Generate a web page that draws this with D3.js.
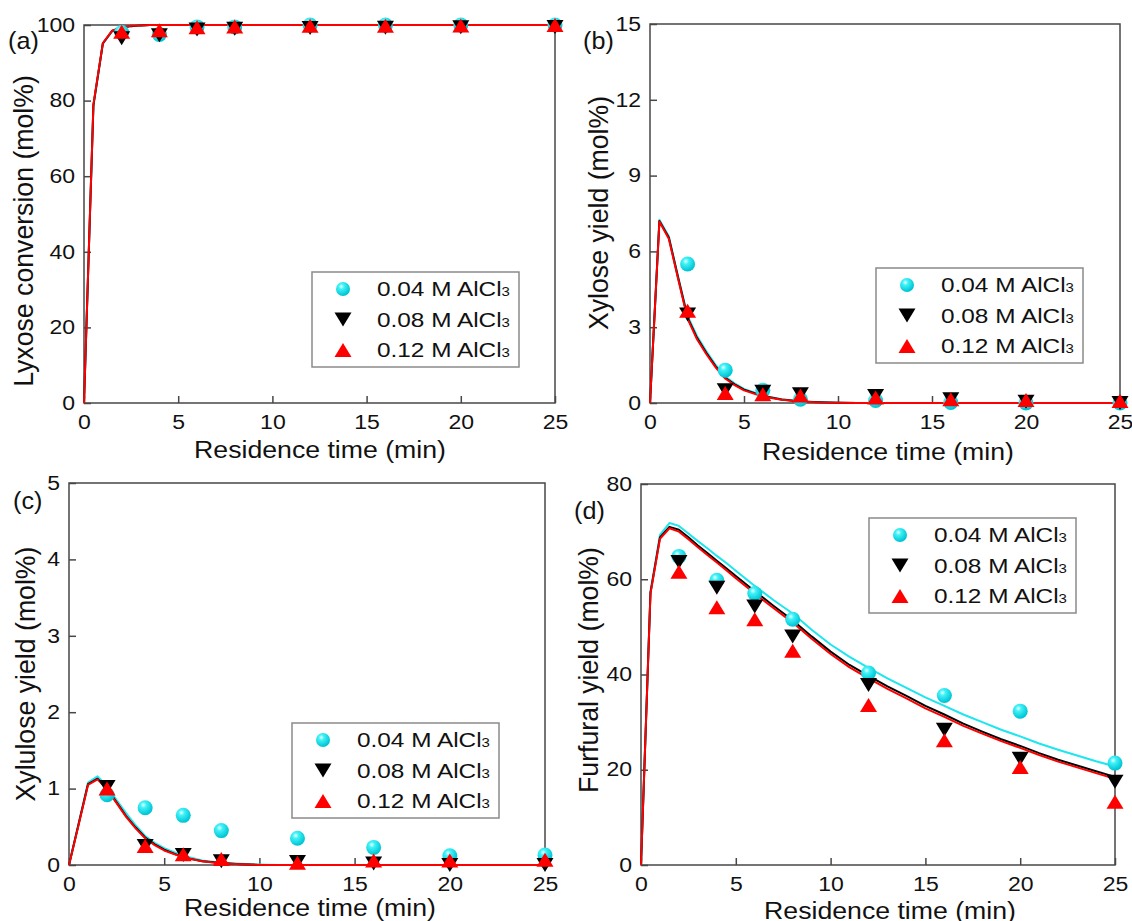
<!DOCTYPE html>
<html>
<head>
<meta charset="utf-8">
<script src="https://cdn.jsdelivr.net/npm/d3@7"></script>
<style>
  body { margin: 0; background: #fff; }
  text { font-family: "Liberation Sans", Arial, sans-serif; fill: #111; }
</style>
</head>
<body>
<script>
// residence times of the experiments and of the model curves
var tData = [2, 4, 6, 8, 12, 16, 20, 25];
var tFit = [0, 0.5, 1, 1.5, 2, 2.5, 3, 3.5, 4, 4.5, 5, 6, 7, 8, 9, 10, 11, 12, 13, 14, 15, 16, 17, 18, 19, 20, 21, 22, 23, 24, 25];

var xTicks = [0, 5, 10, 15, 20, 25];
var yTicksA = [0, 20, 40, 60, 80, 100];
var yTicksB = [0, 3, 6, 9, 12, 15];
var yTicksC = [0, 1, 2, 3, 4, 5];
var yTicksD = [0, 20, 40, 60, 80];

var seriesNames = ["0.04 M AlCl", "0.08 M AlCl", "0.12 M AlCl"];

// (a) lyxose conversion
var lyxC04 = [98.0, 97.5, 99.5, 99.5, 100, 100, 100, 100];
var lyxC08 = [96.5, 97.3, 98.8, 99.0, 99.2, 99.3, 99.4, 99.5];
var lyxC12 = [98.2, 98.6, 99.4, 99.6, 99.8, 99.8, 99.9, 100];
var lyxFit04 = [0, 78.6, 95.0, 98.4, 99.3, 99.7, 99.9, 100, 100, 100, 100, 100, 100, 100, 100, 100, 100, 100, 100, 100, 100, 100, 100, 100, 100, 100, 100, 100, 100, 100, 100];
var lyxFit08 = [0, 78.8, 95.1, 98.5, 99.3, 99.7, 99.9, 100, 100, 100, 100, 100, 100, 100, 100, 100, 100, 100, 100, 100, 100, 100, 100, 100, 100, 100, 100, 100, 100, 100, 100];
var lyxFit12 = [0, 79.0, 95.2, 98.5, 99.4, 99.8, 99.9, 100, 100, 100, 100, 100, 100, 100, 100, 100, 100, 100, 100, 100, 100, 100, 100, 100, 100, 100, 100, 100, 100, 100, 100];

// (b) xylose yield
var xylC04 = [5.5, 1.3, 0.5, 0.15, 0.1, 0.02, 0.0, 0.0];
var xylC08 = [3.5, 0.5, 0.45, 0.35, 0.28, 0.15, 0.05, 0.0];
var xylC12 = [3.65, 0.4, 0.35, 0.3, 0.22, 0.15, 0.12, 0.08];
var xylFit04 = [0, 7.25, 6.6, 5.0, 3.45, 2.65, 2.05, 1.5, 1.05, 0.78, 0.56, 0.3, 0.15, 0.07, 0.03, 0.01, 0, 0, 0, 0, 0, 0, 0, 0, 0, 0, 0, 0, 0, 0, 0];
var xylFit08 = [0, 7.2, 6.55, 4.95, 3.38, 2.58, 1.98, 1.44, 1.0, 0.74, 0.53, 0.28, 0.14, 0.06, 0.03, 0.01, 0, 0, 0, 0, 0, 0, 0, 0, 0, 0, 0, 0, 0, 0, 0];
var xylFit12 = [0, 7.18, 6.5, 4.9, 3.33, 2.52, 1.93, 1.4, 0.97, 0.71, 0.5, 0.26, 0.13, 0.06, 0.02, 0.01, 0, 0, 0, 0, 0, 0, 0, 0, 0, 0, 0, 0, 0, 0, 0];

// (c) xylulose yield
var xluC04 = [0.92, 0.75, 0.65, 0.45, 0.35, 0.23, 0.12, 0.13];
var xluC08 = [1.02, 0.25, 0.13, 0.05, 0.04, 0.02, 0.0, 0.0];
var xluC12 = [1.0, 0.25, 0.14, 0.08, 0.03, 0.06, 0.06, 0.07];
var xluFit04 = [0, 0.54, 1.08, 1.16, 1.03, 0.85, 0.68, 0.52, 0.38, 0.29, 0.22, 0.12, 0.06, 0.03, 0.015, 0.005, 0, 0, 0, 0, 0, 0, 0, 0, 0, 0, 0, 0, 0, 0, 0];
var xluFit08 = [0, 0.53, 1.06, 1.13, 1.0, 0.82, 0.64, 0.49, 0.36, 0.27, 0.2, 0.1, 0.05, 0.025, 0.01, 0, 0, 0, 0, 0, 0, 0, 0, 0, 0, 0, 0, 0, 0, 0, 0];
var xluFit12 = [0, 0.52, 1.05, 1.12, 0.99, 0.81, 0.63, 0.48, 0.35, 0.26, 0.19, 0.1, 0.05, 0.02, 0.01, 0, 0, 0, 0, 0, 0, 0, 0, 0, 0, 0, 0, 0, 0, 0, 0];

// (d) furfural yield
var furC04 = [64.8, 59.8, 57.0, 51.6, 40.3, 35.6, 32.3, 21.4];
var furC08 = [63.6, 58.2, 54.3, 48.0, 37.8, 28.4, 22.3, 17.5];
var furC12 = [61.6, 54.1, 51.6, 45.0, 33.6, 26.2, 20.6, 13.3];
var furFit04 = [0, 57.5, 69.3, 71.8, 71.2, 69.6, 68.0, 66.5, 64.9, 63.4, 61.8, 58.6, 55.6, 52.8, 49.4, 46.3, 43.7, 41.4, 39.2, 37.2, 35.2, 33.4, 31.6, 30.0, 28.4, 27.0, 25.5, 24.2, 23.0, 21.8, 20.7];
var furFit08 = [0, 57.2, 68.8, 71.0, 70.4, 68.8, 67.1, 65.5, 63.9, 62.3, 60.7, 57.5, 54.4, 51.4, 48.0, 44.8, 42.0, 39.7, 37.5, 35.5, 33.4, 31.6, 29.7, 28.0, 26.4, 25.0, 23.5, 22.1, 20.9, 19.7, 18.5];
var furFit12 = [0, 57.0, 68.5, 70.7, 70.0, 68.4, 66.7, 65.1, 63.5, 61.9, 60.2, 57.0, 53.9, 50.9, 47.5, 44.3, 41.5, 39.2, 37.0, 35.0, 32.9, 31.1, 29.2, 27.6, 26.0, 24.6, 23.1, 21.7, 20.5, 19.3, 18.1];

var lineColors = ["#1ce6ee", "#000000", "#ff0000"];
var frameColor = "#474747";

var panels = [
    {name: "(a)", box: [84, 555, 25, 403], yTicks: yTicksA, ytitle: "Lyxose conversion (mol%)",
     fits: [lyxFit04, lyxFit08, lyxFit12], pts: [lyxC04, lyxC08, lyxC12],
     legend: [312, 272], label: [8, 49], yTitle: [33, 231], xTitle: [320, 458]},
    {name: "(b)", box: [650, 1120, 24, 403], yTicks: yTicksB, ytitle: "Xylose yield (mol%)",
     fits: [xylFit04, xylFit08, xylFit12], pts: [xylC04, xylC08, xylC12],
     legend: [876, 268], label: [583, 49], yTitle: [608, 213], xTitle: [888, 460]},
    {name: "(c)", box: [69, 545, 483, 865], yTicks: yTicksC, ytitle: "Xylulose yield (mol%)",
     fits: [xluFit04, xluFit08, xluFit12], pts: [xluC04, xluC08, xluC12],
     legend: [292, 723], label: [13, 509], yTitle: [35, 674], xTitle: [310, 916]},
    {name: "(d)", box: [641, 1115, 484, 865], yTicks: yTicksD, ytitle: "Furfural yield (mol%)",
     fits: [furFit04, furFit08, furFit12], pts: [furC04, furC08, furC12],
     legend: [869, 518], label: [574, 519], yTitle: [598, 670], xTitle: [890, 919]}
];

var svg = d3.select("body").append("svg")
    .attr("width", 1132)
    .attr("height", 921);

var grad = svg.append("defs").append("radialGradient")
    .attr("id", "ball").attr("cx", "38%").attr("cy", "32%").attr("r", "65%");
grad.append("stop").attr("offset", "0%").attr("stop-color", "#e6ffff");
grad.append("stop").attr("offset", "30%").attr("stop-color", "#40f2f7");
grad.append("stop").attr("offset", "100%").attr("stop-color", "#00c4d4");

// horizontal stretch of text, the source figure is a bit wider than tall
function stretch(sel, sx){
    sel.each(function(){
        var t = d3.select(this);
        var x = +t.attr("x") || 0;
        t.attr("x", x / sx).attr("transform", "scale(" + sx + ",1)");
    });
}

function triangle(cx, cy, up){
    var w = 8.5, h = 7;
    if (up) return "M" + (cx - w) + "," + (cy + h) + "L" + (cx + w) + "," + (cy + h) + "L" + cx + "," + (cy - h) + "Z";
    return "M" + (cx - w) + "," + (cy - h) + "L" + (cx + w) + "," + (cy - h) + "L" + cx + "," + (cy + h) + "Z";
}

function marker(g, k, cx, cy, r){
    if (k === 0) {
        g.append("circle").attr("cx", cx).attr("cy", cy).attr("r", r).attr("fill", "url(#ball)");
    } else {
        g.append("path").attr("d", triangle(cx, cy, k === 2)).attr("fill", lineColors[k]);
    }
}

panels.forEach(function(p){
    var x = d3.scaleLinear().domain([0, 25]).range([p.box[0], p.box[1]]);
    var y = d3.scaleLinear().domain([0, d3.max(p.yTicks)]).range([p.box[3], p.box[2]]);
    var g = svg.append("g");

    //Axes with inward ticks
    var gx = g.append("g")
        .attr("transform", "translate(0," + p.box[3] + ")")
        .call(d3.axisBottom(x).tickValues(xTicks).tickFormat(d3.format("d"))
            .tickSizeInner(-7).tickSizeOuter(0).tickPadding(12));
    var gy = g.append("g")
        .attr("transform", "translate(" + p.box[0] + ",0)")
        .call(d3.axisLeft(y).tickValues(p.yTicks).tickFormat(d3.format("d"))
            .tickSizeInner(-7).tickSizeOuter(0).tickPadding(9));
    [gx, gy].forEach(function(a){
        a.select(".domain").remove();
        a.selectAll("line").attr("stroke", frameColor).attr("stroke-width", 1.5);
        a.selectAll("text").attr("font-size", 19.5).attr("font-family", "Liberation Sans, Arial, sans-serif").attr("fill", "#111");
        stretch(a.selectAll("text"), 1.18);
    });

    g.append("rect")
        .attr("x", p.box[0]).attr("y", p.box[2])
        .attr("width", p.box[1] - p.box[0]).attr("height", p.box[3] - p.box[2])
        .attr("fill", "none").attr("stroke", frameColor).attr("stroke-width", 1.5);

    //Model curves
    var line = d3.line()
        .x(function(d, i){ return x(tFit[i]); })
        .y(function(d){ return y(d); });
    p.fits.forEach(function(f, k){
        g.append("path").attr("d", line(f))
            .attr("fill", "none").attr("stroke", lineColors[k]).attr("stroke-width", 2)
            .attr("stroke-linejoin", "round");
    });

    //Experimental points
    p.pts.forEach(function(s, k){
        s.forEach(function(v, i){ marker(g, k, x(tData[i]), y(v), 7.5); });
    });

    //Legend
    var lg = g.append("g").attr("transform", "translate(" + p.legend[0] + "," + p.legend[1] + ")");
    lg.append("rect").attr("width", 207).attr("height", 95)
        .attr("fill", "#fff").attr("stroke", "#8a8a8a").attr("stroke-width", 1.5);
    [17, 47.5, 78].forEach(function(ry, k){
        marker(lg, k, 31, ry, 7);
        var t = lg.append("text")
            .attr("transform", "translate(65," + (ry + 7) + ") scale(1.25,1)")
            .attr("font-size", 19.5);
        t.append("tspan").text(seriesNames[k]);
        t.append("tspan").attr("font-size", 12).text("3");
    });

    //Titles
    g.append("text")
        .attr("transform", "translate(" + p.xTitle[0] + "," + p.xTitle[1] + ") scale(1.16,1)")
        .attr("text-anchor", "middle").attr("font-size", 23)
        .text("Residence time (min)");
    g.append("text")
        .attr("transform", "translate(" + p.yTitle[0] + "," + p.yTitle[1] + ") rotate(-90) scale(1.16,1.2)")
        .attr("text-anchor", "middle").attr("font-size", 23)
        .text(p.ytitle);
    g.append("text")
        .attr("transform", "translate(" + p.label[0] + "," + p.label[1] + ") scale(1.05,1)")
        .attr("font-size", 24)
        .text(p.name);
});
</script>
</body>
</html>
